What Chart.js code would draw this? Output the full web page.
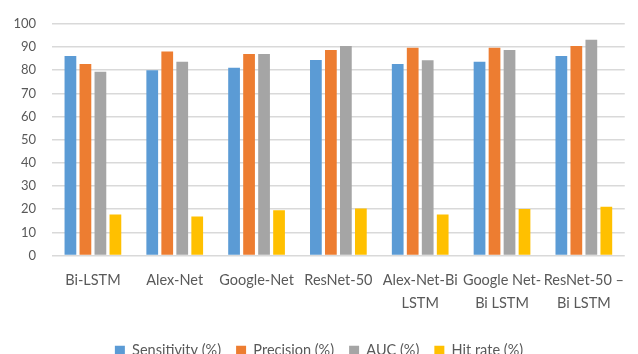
<!DOCTYPE html>
<html>
<head>
<meta charset="utf-8">
<script src="https://cdn.jsdelivr.net/npm/chart.js@4/dist/chart.umd.min.js"></script>
<style>
  html, body { margin: 0; padding: 0; background: #ffffff; }
  #wrap { width: 638px; height: 354px; }
</style>
</head>
<body>
<div id="wrap"><canvas id="c" width="638" height="354"></canvas></div>
<script>
// Model names (multi-line where the label wraps)
const categories = [
  "Bi-LSTM",
  "Alex-Net",
  "Google-Net",
  "ResNet-50",
  ["Alex-Net-Bi", "LSTM"],
  ["Google Net-", "Bi LSTM"],
  ["ResNet-50 \u2013", "Bi LSTM"]
];

// Metric values per model (%)
const sensitivity = [86.1, 80.0, 81.0, 84.4, 82.7, 83.6, 86.1];
const precision   = [82.7, 88.0, 87.0, 88.7, 89.7, 89.7, 90.4];
const auc         = [79.3, 83.6, 87.0, 90.4, 84.3, 88.7, 93.1];
const hitRate     = [17.7, 16.8, 19.6, 20.3, 17.7, 20.1, 21.1];

const yTicks = [0, 10, 20, 30, 40, 50, 60, 70, 80, 90, 100];

const seriesNames = ["Sensitivity (%)", "Precision (%)", "AUC (%)", "Hit rate (%)"];
const seriesColors = ["#5B9BD5", "#ED7D31", "#A5A5A5", "#FFC000"];
const seriesData = [sensitivity, precision, auc, hitRate];

const FONT = "Lato, 'Open Sans', sans-serif";
const TEXT = "#595959";
const GRID = "#D9D9D9";

new Chart(document.getElementById("c"), {
  type: "bar",
  data: {
    labels: categories,
    datasets: seriesData.map((d, i) => ({
      label: seriesNames[i],
      data: d,
      backgroundColor: seriesColors[i],
      borderWidth: 0,
      categoryPercentage: 0.733,
      barPercentage: 0.783
    }))
  },
  options: {
    responsive: false,
    animation: false,
    layout: { padding: { top: 16, right: 0, bottom: -14, left: 0 } },
    plugins: {
      tooltip: { enabled: false },
      legend: {
        position: "bottom",
        labels: {
          boxWidth: 10,
          boxHeight: 10,
          padding: 15,
          color: TEXT,
          font: { family: FONT, size: 14.5 }
        }
      }
    },
    scales: {
      x: {
        grid: { display: false, drawTicks: false },
        border: { display: false },
        ticks: {
          color: TEXT,
          padding: 14,
          maxRotation: 0,
          autoSkip: false,
          font: { family: FONT, size: 14.5, lineHeight: 1.55 }
        }
      },
      y: {
        min: 0,
        max: 100,
        afterFit: (scale) => { scale.width = 52; },
        afterBuildTicks: (scale) => { scale.ticks = yTicks.map(v => ({ value: v })); },
        grid: { color: GRID, lineWidth: 1.5, drawTicks: false },
        border: { display: false },
        ticks: {
          color: TEXT,
          padding: 16,
          font: { family: FONT, size: 13 }
        }
      }
    }
  }
});
</script>
</body>
</html>
